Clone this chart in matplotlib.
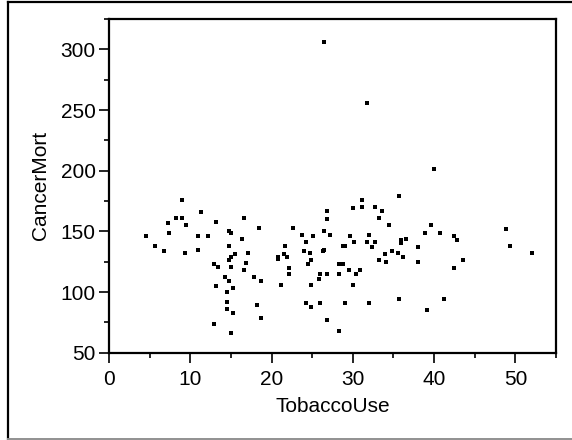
import matplotlib
matplotlib.use("Agg")
import matplotlib.pyplot as plt
from matplotlib.lines import Line2D
from matplotlib.ticker import MultipleLocator

plt.rcParams['font.family'] = ['Liberation Sans', 'DejaVu Sans']

# TobaccoUse vs CancerMort
tobacco_use = [
    26.5, 31.8, 40.0,
    9.0, 11.3, 8.2, 9.0, 7.2, 9.5, 13.2, 16.6, 18.5, 7.4,
    4.5, 10.9, 12.2, 14.8, 15.0, 16.4, 5.6, 14.8, 6.8, 10.9,
    9.3, 17.1, 15.5, 15.0, 14.8, 16.9, 12.9, 13.4, 15.0, 16.6,
    14.3, 17.8, 14.8, 18.7, 13.2, 15.3, 14.5, 14.5, 18.2, 14.5,
    15.3, 18.7, 12.9, 15.0,
    26.8, 26.8, 22.6, 23.8, 26.5, 27.2, 25.1, 24.2, 21.7, 24.0,
    26.3, 26.5, 24.7, 21.5, 20.8, 21.9, 20.8, 24.9, 24.5, 22.2,
    22.2, 26.0, 26.8, 25.8, 21.2, 24.9, 24.2, 26.0, 24.9, 26.8,
    35.7, 31.1, 30.0, 31.1, 32.7, 33.6, 33.2, 34.5, 39.6, 38.9,
    40.7, 48.8, 29.7, 32.0, 42.5, 42.8, 30.2, 31.8, 32.7, 35.9,
    35.9, 35.9, 36.6, 28.8, 29.0, 32.3, 38.0, 49.4, 34.8, 35.5,
    33.9, 36.2, 52.0, 33.2, 34.1, 38.0, 43.5, 28.3, 28.8, 28.3,
    29.5, 30.4, 30.9, 42.5, 30.0, 35.7, 41.2, 29.0, 32.0, 39.1,
    28.3,
]
cancer_mort = [
    306, 256, 201,
    176, 166, 161, 161, 157, 155, 158, 161, 153, 149,
    146, 146, 146, 150, 149, 144, 138, 138, 134, 135,
    132, 132, 131, 129, 126, 124, 123, 121, 121, 118,
    112, 112, 109, 109, 105, 103, 100, 92, 89, 86,
    83, 79, 74, 66,
    167, 160, 153, 147, 150, 147, 146, 141, 138, 134,
    134, 135, 132, 131, 129, 129, 127, 126, 123, 120,
    115, 115, 115, 111, 106, 106, 91, 91, 88, 77,
    179, 176, 169, 170, 170, 167, 161, 155, 155, 149,
    149, 152, 146, 147, 146, 143, 141, 141, 141, 143,
    141, 140, 144, 138, 138, 137, 137, 138, 134, 132,
    131, 129, 132, 126, 125, 125, 126, 123, 123, 115,
    118, 115, 118, 120, 106, 94, 94, 91, 91, 85,
    68,
]

fig = plt.figure(figsize=(5.72, 4.40), dpi=100)
ax = fig.add_axes([0.1906, 0.1984, 0.7814, 0.7584])

ax.plot(tobacco_use, cancer_mort, linestyle='none', marker='s',
        markersize=2.4, color='black', markeredgewidth=0)

ax.set_xlim(0, 55)
ax.set_ylim(50, 325)
ax.xaxis.set_major_locator(MultipleLocator(10))
ax.xaxis.set_minor_locator(MultipleLocator(5))
ax.yaxis.set_major_locator(MultipleLocator(50))
ax.yaxis.set_minor_locator(MultipleLocator(25))

for s in ax.spines.values():
    s.set_linewidth(1.6)
ax.tick_params(which='major', length=7, width=1.2, labelsize=15)
ax.tick_params(axis='y', which='major', pad=2.5)
ax.tick_params(axis='x', which='major', pad=5.5)
ax.tick_params(which='minor', length=3.5, width=1.2)

ax.set_xlabel('TobaccoUse', fontsize=15, labelpad=6)
ax.set_ylabel('CancerMort', fontsize=15, labelpad=8)

# outer frame (left and top black, bottom gray)
fig.add_artist(Line2D([8 / 572, 8 / 572], [0, 1 - 2 / 440], color='black', linewidth=1.6))
fig.add_artist(Line2D([8 / 572, 1], [1 - 2 / 440, 1 - 2 / 440], color='black', linewidth=1.6))
fig.add_artist(Line2D([8 / 572, 1], [1 / 440, 1 / 440], color='#909090', linewidth=1.4))

fig.savefig('out.png', dpi=100)
